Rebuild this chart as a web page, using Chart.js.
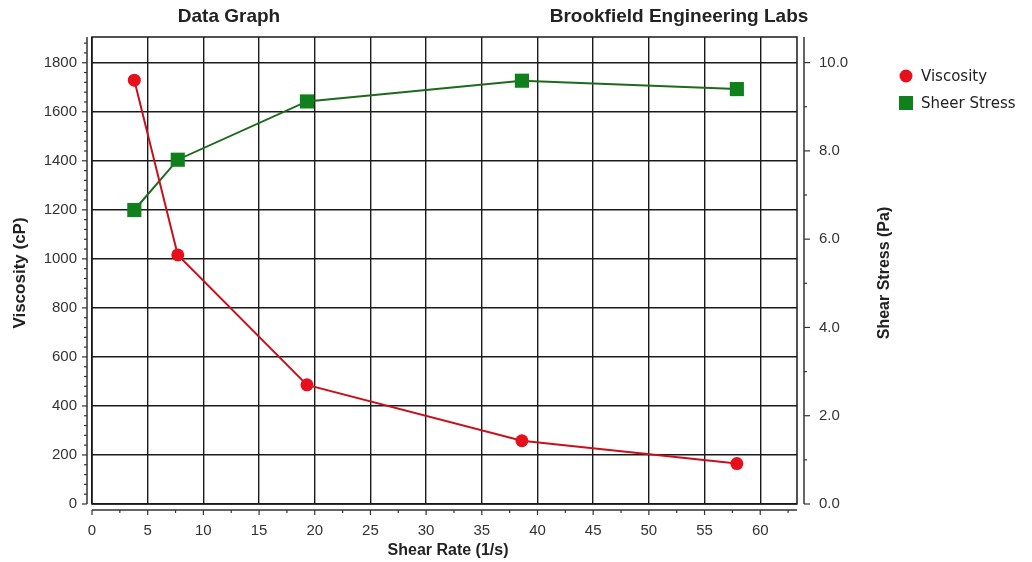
<!DOCTYPE html>
<html>
<head>
<meta charset="utf-8">
<title>Data Graph</title>
<script src="https://cdn.jsdelivr.net/npm/chart.js@4.4.1/dist/chart.umd.min.js"></script>
<style>
  body { margin: 0; background: #fff; }
  canvas { display: block; }
</style>
</head>
<body>
<canvas id="dataGraph" width="1032" height="562"></canvas>
<script>
// Readings taken off the Brookfield data graph
const shearRate = [3.8, 7.7, 19.3, 38.6, 57.9];       // 1/s
const viscosity = [1729, 1016, 486, 258, 165];        // cP
const shearStress = [6.66, 7.80, 9.12, 9.59, 9.40];   // Pa

// Axis ticks and labels
const xTicks = [0, 5, 10, 15, 20, 25, 30, 35, 40, 45, 50, 55, 60];
const viscTicks = [0, 200, 400, 600, 800, 1000, 1200, 1400, 1600, 1800];
const stressTicks = [0, 2, 4, 6, 8, 10];
const stressLabels = ['0.0', '2.0', '4.0', '6.0', '8.0', '10.0'];

const seriesNames = ['Viscosity', 'Sheer Stress'];
const redColor = '#e5101c';
const greenColor = '#10801c';

Chart.defaults.font.family = "'Liberation Sans', Arial, sans-serif";
Chart.defaults.color = '#333';

function line(ctx, x1, y1, x2, y2) {
    ctx.beginPath();
    ctx.moveTo(x1, y1);
    ctx.lineTo(x2, y2);
    ctx.stroke();
}

// Minor tick values between the labelled ones
function minorTicks(step, max) {
    const out = [];
    for (let v = step; v < max; v += step) out.push(v);
    return out;
}

// Frame around the plot plus the detached axis lines with their tick marks
const frameAndAxes = {
    id: 'frameAndAxes',
    beforeDatasetsDraw(chart) {
        const { ctx, chartArea: a, scales } = chart;
        ctx.save();
        ctx.strokeStyle = '#1a1a1a';
        ctx.lineWidth = 1.5;
        ctx.strokeRect(a.left, a.top, a.right - a.left, a.bottom - a.top);

        const lx = a.left - 5, rx = a.right + 7, by = a.bottom + 6;
        ctx.strokeStyle = '#333';
        ctx.lineWidth = 1.5;
        line(ctx, lx, a.top, lx, a.bottom);
        line(ctx, rx, a.top, rx, a.bottom);
        line(ctx, a.left, by, a.right, by);

        ctx.lineWidth = 1.2;
        // left axis
        viscTicks.forEach(v => { const y = scales.y.getPixelForValue(v); line(ctx, lx - 5, y, lx, y); });
        minorTicks(40, scales.y.max).forEach(v => {
            if (v % 200 === 0) return;
            const y = scales.y.getPixelForValue(v); line(ctx, lx - 3, y, lx, y);
        });
        // right axis
        stressTicks.forEach(v => { const y = scales.y2.getPixelForValue(v); line(ctx, rx, y, rx + 6, y); });
        [1, 3, 5, 7, 9].forEach(v => { const y = scales.y2.getPixelForValue(v); line(ctx, rx, y, rx + 3, y); });
        // bottom axis
        xTicks.forEach(v => { const x = scales.x.getPixelForValue(v); line(ctx, x, by, x, by + 5); });
        minorTicks(2.5, scales.x.max).forEach(v => {
            if (v % 5 === 0) return;
            const x = scales.x.getPixelForValue(v); line(ctx, x, by, x, by + 3);
        });
        ctx.restore();
    }
};

// Titles, axis titles and the legend
const textLayer = {
    id: 'textLayer',
    afterDraw(chart) {
        const ctx = chart.ctx;
        ctx.save();
        ctx.fillStyle = '#222';
        ctx.textAlign = 'center';
        ctx.textBaseline = 'middle';
        ctx.font = "bold 19px 'Liberation Sans', Arial, sans-serif";
        ctx.fillText('Data Graph', 229, 17);
        ctx.fillText('Brookfield Engineering Labs', 679, 17);

        ctx.font = "bold 16px 'Liberation Sans', Arial, sans-serif";
        ctx.fillText('Shear Rate (1/s)', 448, 551);

        ctx.save();
        ctx.translate(20, 273);
        ctx.rotate(-Math.PI / 2);
        ctx.font = "bold 17px 'Liberation Sans', Arial, sans-serif";
        ctx.fillText('Viscosity (cP)', 0, 0);
        ctx.restore();

        ctx.save();
        ctx.translate(885, 273);
        ctx.rotate(-Math.PI / 2);
        ctx.fillText('Shear Stress (Pa)', 0, 0);
        ctx.restore();

        // legend
        ctx.textAlign = 'left';
        ctx.font = "15px 'DejaVu Sans', sans-serif";
        ctx.fillStyle = redColor;
        ctx.beginPath();
        ctx.arc(906, 76, 6.5, 0, Math.PI * 2);
        ctx.fill();
        ctx.fillStyle = greenColor;
        ctx.fillRect(899, 96, 14, 14);
        ctx.fillStyle = '#222';
        ctx.fillText(seriesNames[0], 921, 77);
        ctx.fillText(seriesNames[1], 921, 104);
        ctx.restore();
    }
};

const ctx = document.getElementById('dataGraph').getContext('2d');

new Chart(ctx, {
    type: 'line',
    data: {
        datasets: [
            {
                label: seriesNames[0],
                data: shearRate.map((x, i) => ({ x: x, y: viscosity[i] })),
                borderColor: '#c8101c',
                backgroundColor: redColor,
                borderWidth: 2,
                pointStyle: 'circle',
                pointRadius: 6.5,
                pointBorderWidth: 0,
                yAxisID: 'y'
            },
            {
                label: seriesNames[1],
                data: shearRate.map((x, i) => ({ x: x, y: shearStress[i] })),
                borderColor: '#1d6a1d',
                backgroundColor: greenColor,
                borderWidth: 2,
                pointStyle: 'rect',
                pointRadius: 10,
                pointBorderWidth: 0,
                yAxisID: 'y2'
            }
        ]
    },
    options: {
        responsive: false,
        devicePixelRatio: 1,
        animation: false,
        layout: { padding: { top: 37 } },
        plugins: {
            legend: { display: false },
            tooltip: { enabled: false }
        },
        scales: {
            x: {
                type: 'linear',
                min: 0,
                max: 63.3,
                afterBuildTicks: s => { s.ticks = xTicks.map(v => ({ value: v })); },
                afterFit: s => { s.height = 58; },
                ticks: { padding: 18, font: { size: 15 }, callback: v => String(v) },
                grid: { color: '#1a1a1a', lineWidth: 1.4, drawTicks: false },
                border: { display: false }
            },
            y: {
                position: 'left',
                min: 0,
                max: 1905,
                afterBuildTicks: s => { s.ticks = viscTicks.map(v => ({ value: v })); },
                afterFit: s => { s.width = 92; },
                ticks: { padding: 15, font: { size: 15 }, callback: v => String(v) },
                grid: { color: '#1a1a1a', lineWidth: 1.4, drawTicks: false },
                border: { display: false }
            },
            y2: {
                position: 'right',
                min: 0,
                max: 10.58,
                afterBuildTicks: s => { s.ticks = stressTicks.map(v => ({ value: v })); },
                afterFit: s => { s.width = 235; },
                ticks: {
                    padding: 22,
                    font: { size: 15 },
                    callback: (v, i) => stressLabels[i]
                },
                grid: { display: false, drawTicks: false },
                border: { display: false }
            }
        }
    },
    plugins: [frameAndAxes, textLayer]
});
</script>
</body>
</html>
